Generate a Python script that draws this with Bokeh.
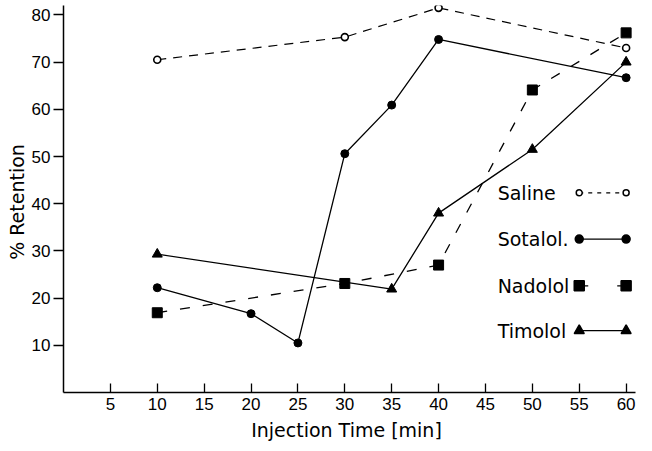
from bokeh.plotting import figure
from bokeh.models import Range1d, FixedTicker
from bokeh.embed import file_html
from bokeh.resources import INLINE
from bokeh.core.properties import value

# ---- data ----
saline_x = [10, 30, 40, 60]
saline_y = [70.5, 75.3, 81.5, 73.0]

sotalol_x = [10, 20, 25, 30, 35, 40, 60]
sotalol_y = [22.2, 16.7, 10.5, 50.6, 60.9, 74.8, 66.7]

nadolol_x = [10, 30, 40, 50, 60]
nadolol_y = [16.9, 23.1, 27.0, 64.1, 76.2]

timolol_x = [10, 35, 40, 50, 60]
timolol_y = [29.3, 21.9, 38.0, 51.5, 70.0]

x_ticks = [5, 10, 15, 20, 25, 30, 35, 40, 45, 50, 55, 60]
y_ticks = [10, 20, 30, 40, 50, 60, 70, 80]

legend_labels = ["Saline", "Sotalol.", "Nadolol", "Timolol"]

TICK_FONT = "Liberation Sans"
TEXT_FONT = "DejaVu Sans"

p = figure(width=640, height=448, x_range=Range1d(0, 61), y_range=Range1d(0, 82),
           output_backend="svg", toolbar_location=None,
           min_border_left=63, min_border_right=5, min_border_top=5, min_border_bottom=56)
p.outline_line_color = None
p.xgrid.visible = False
p.ygrid.visible = False
p.background_fill_color = "white"

# axes
p.xaxis.ticker = FixedTicker(ticks=x_ticks)
p.yaxis.ticker = FixedTicker(ticks=y_ticks)
for ax in (p.xaxis, p.yaxis):
    ax.axis_line_color = "black"
    ax.axis_line_width = 1.5
    ax.major_tick_line_color = "black"
    ax.major_tick_line_width = 1.3
    ax.minor_tick_line_color = None
    ax.major_label_text_font = TICK_FONT
    ax.major_label_text_font_size = "17px"
    ax.major_label_text_color = "black"
    ax.axis_label_text_font = TEXT_FONT
    ax.axis_label_text_font_size = "19px"
    ax.axis_label_text_font_style = "normal"
    ax.axis_label_text_color = "black"
p.xaxis.major_tick_in = 9
p.xaxis.major_tick_out = 0
p.xaxis.major_label_standoff = 5
p.xaxis.axis_label = "Injection  Time [min]"
p.xaxis.axis_label_standoff = 6
p.yaxis.major_tick_in = 0
p.yaxis.major_tick_out = 10
p.yaxis.major_label_standoff = 3
p.yaxis.axis_label = "%  Retention"
p.yaxis.axis_label_standoff = 1

# series
p.line(saline_x, saline_y, line_color="black", line_width=1.2, line_dash="9 7")
p.scatter(saline_x, saline_y, marker="circle", size=7, fill_color="white",
          line_color="black", line_width=1.6)

p.line(sotalol_x, sotalol_y, line_color="black", line_width=1.3)
p.scatter(sotalol_x, sotalol_y, marker="circle", size=8, fill_color="black", line_color="black")

p.line(nadolol_x, nadolol_y, line_color="black", line_width=1.3, line_dash="10 13")
p.scatter(nadolol_x, nadolol_y, marker="square", size=10, fill_color="black", line_color="black")

p.line(timolol_x, timolol_y, line_color="black", line_width=1.3)
p.scatter(timolol_x, timolol_y, marker="triangle", size=10, fill_color="black", line_color="black")

# hand-made legend (label on the left, line sample with markers at both ends)
lx_text = 46.3
lx0, lx1 = 55.0, 60.0
ly = [42.3, 32.5, 22.6, 13.1]
styles = [
    dict(marker="circle", size=6, fill="white", dash="4 5"),
    dict(marker="circle", size=8, fill="black", dash="solid"),
    dict(marker="square", size=10, fill="black", dash="9 29"),
    dict(marker="triangle", size=10, fill="black", dash="solid"),
]
p.text(x=[lx_text] * 4, y=ly, text=legend_labels, text_font=value(TEXT_FONT),
       text_font_size="19px", text_baseline="middle", text_align="left", text_color="black")
for yy, st in zip(ly, styles):
    p.line([lx0, lx1], [yy, yy], line_color="black", line_width=1.3, line_dash=st["dash"])
    p.scatter([lx0, lx1], [yy, yy], marker=st["marker"], size=st["size"],
              fill_color=st["fill"], line_color="black", line_width=1.5)

open("out.html", "w").write(file_html(p, INLINE))
